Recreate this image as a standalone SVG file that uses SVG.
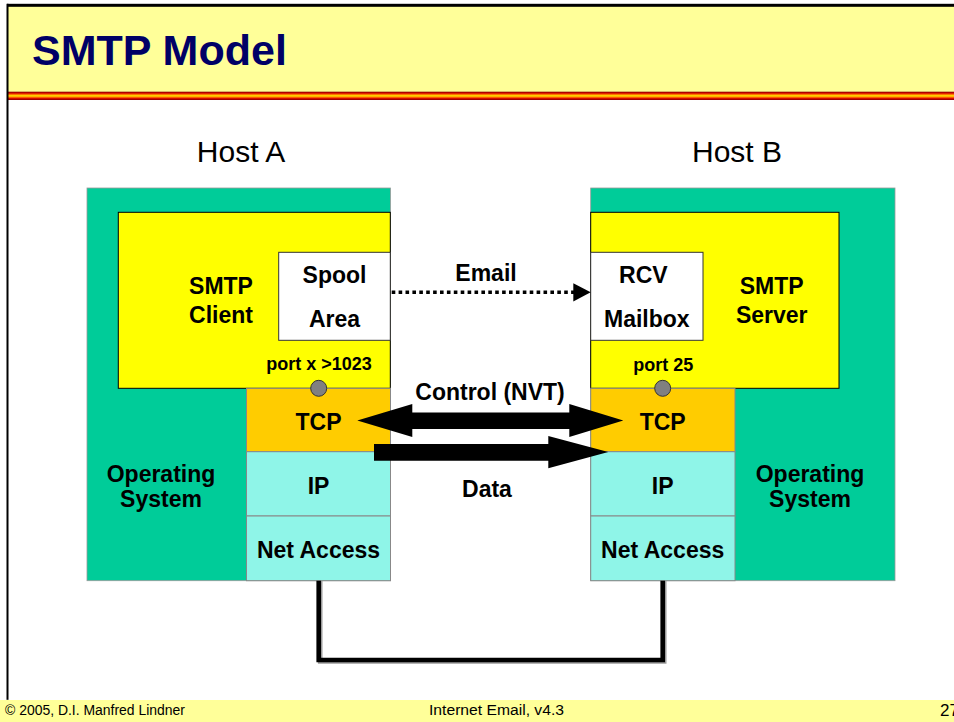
<svg xmlns="http://www.w3.org/2000/svg" width="954" height="722" viewBox="0 0 954 722">
  <defs>
    <linearGradient id="rule" x1="0" y1="0" x2="0" y2="1">
      <stop offset="0" stop-color="#800000"/>
      <stop offset="0.16" stop-color="#cc0000"/>
      <stop offset="0.32" stop-color="#ff6600"/>
      <stop offset="0.5" stop-color="#ffee00"/>
      <stop offset="0.68" stop-color="#ff6600"/>
      <stop offset="0.84" stop-color="#cc0000"/>
      <stop offset="1" stop-color="#800000"/>
    </linearGradient>
  </defs>
  <style>
    text { font-family: "Liberation Sans", Arial, Helvetica, sans-serif; fill: #000; }
    .lbl { font-size: 23px; font-weight: bold; text-anchor: middle; }
    .port { font-size: 18px; font-weight: bold; text-anchor: middle; }
    .host { font-size: 30px; text-anchor: middle; }
    .foot { font-size: 14px; }
    .os { fill: #00cc99; stroke: #999; stroke-width: 0.8; }
    .app { fill: #ffff00; stroke: #000; stroke-width: 1; }
    .store { fill: #fff; stroke: #333; stroke-width: 1; }
    .tcp { fill: #ffcc00; stroke: #888; stroke-width: 1; }
    .net { fill: #8ff5e8; stroke: #888; stroke-width: 1; }
    .sock { fill: #808080; stroke: #333; stroke-width: 1; }
    .arrow { fill: #000; }
  </style>

  <!-- slide background, title band and footer -->
  <rect x="0" y="0" width="954" height="722" fill="#fff"/>
  <rect x="7" y="5" width="947" height="87" fill="#ffff99"/>
  <rect x="7" y="91.7" width="947" height="8.3" fill="url(#rule)"/>
  <rect x="7" y="3.8" width="947" height="3" fill="#000"/>
  <rect x="6.5" y="3.8" width="2" height="696" fill="#000"/>
  <rect x="0" y="700" width="954" height="22" fill="#ffff99"/>
  <text x="32" y="65" font-size="43" font-weight="bold" style="fill:#000066">SMTP Model</text>
  <text class="foot" x="5" y="715" textLength="180" lengthAdjust="spacingAndGlyphs">© 2005, D.I. Manfred Lindner</text>
  <text class="foot" x="429" y="715" textLength="135" lengthAdjust="spacingAndGlyphs">Internet Email, v4.3</text>
  <text x="940" y="716" font-size="17">27</text>

  <!-- host captions -->
  <text class="host" x="241" y="162">Host A</text>
  <text class="host" x="737" y="162">Host B</text>

  <!-- Host A: client side stack -->
  <g id="hostA">
    <rect class="os" x="87" y="188" width="303.5" height="392.7"/>
    <rect class="app" x="118.3" y="212.3" width="272" height="176"/>
    <rect class="store" x="278.7" y="252.3" width="111.6" height="88"/>
    <rect class="tcp" x="246.5" y="388.3" width="144" height="63.4"/>
    <rect class="net" x="246.5" y="451.7" width="144" height="64.3"/>
    <rect class="net" x="246.5" y="516" width="144" height="64.7"/>
    <circle class="sock" cx="318.7" cy="388.3" r="8"/>
    <text class="lbl" x="221" y="294">SMTP</text>
    <text class="lbl" x="221" y="323">Client</text>
    <text class="lbl" x="334.5" y="283">Spool</text>
    <text class="lbl" x="334.5" y="327">Area</text>
    <text class="port" x="319" y="370">port x &gt;1023</text>
    <text class="lbl" x="318.5" y="430">TCP</text>
    <text class="lbl" x="318.5" y="494">IP</text>
    <text class="lbl" x="318.5" y="558">Net Access</text>
    <text class="lbl" x="161" y="482">Operating</text>
    <text class="lbl" x="161" y="507">System</text>
  </g>

  <!-- Host B: server side stack -->
  <g id="hostB">
    <rect class="os" x="590.7" y="188" width="304.3" height="392.7"/>
    <rect class="app" x="590.7" y="212.3" width="248.3" height="176"/>
    <rect class="store" x="590.7" y="252.3" width="112.3" height="88"/>
    <rect class="tcp" x="590.7" y="388.3" width="144.3" height="63.4"/>
    <rect class="net" x="590.7" y="451.7" width="144.3" height="64.3"/>
    <rect class="net" x="590.7" y="516" width="144.3" height="64.7"/>
    <circle class="sock" cx="662.7" cy="388.3" r="8"/>
    <text class="lbl" x="771.7" y="294">SMTP</text>
    <text class="lbl" x="771.7" y="323">Server</text>
    <text class="lbl" x="643.3" y="283">RCV</text>
    <text class="lbl" x="646.8" y="327">Mailbox</text>
    <text class="port" x="663.3" y="371">port 25</text>
    <text class="lbl" x="662.7" y="430">TCP</text>
    <text class="lbl" x="662.7" y="494">IP</text>
    <text class="lbl" x="662.7" y="558">Net Access</text>
    <text class="lbl" x="810" y="482">Operating</text>
    <text class="lbl" x="810" y="507">System</text>
  </g>

  <!-- connectors -->
  <g id="connectors">
    <!-- mail transfer between spool and mailbox -->
    <line x1="391.7" y1="292.3" x2="574" y2="292.3" stroke="#000" stroke-width="3.6" stroke-dasharray="3.6 3.3"/>
    <polygon class="arrow" points="573.3,283.3 590.7,292.3 573.3,301.5"/>
    <text class="lbl" x="486" y="281">Email</text>

    <!-- control connection, both directions -->
    <polygon class="arrow" points="357.3,420.5 412.3,404 412.3,412.5 569.3,412.5 569.3,404 623.3,420.5 569.3,437 569.3,429 412.3,429 412.3,437"/>
    <text class="lbl" x="490" y="400">Control (NVT)</text>

    <!-- data connection, client to server -->
    <polygon class="arrow" points="374,444 548.3,444 548.3,436 608.3,452 548.3,468.3 548.3,460.7 374,460.7"/>
    <text class="lbl" x="487" y="497">Data</text>

    <!-- physical link between the two network access layers -->
    <path d="M320.2,581 V661.5 H664.2 V581" fill="none" stroke="#9a9a9a" stroke-width="4.6"/>
    <path d="M318.7,580.7 V660 H662.7 V580.7" fill="none" stroke="#000" stroke-width="4.6" stroke-linejoin="miter"/>
  </g>
</svg>
